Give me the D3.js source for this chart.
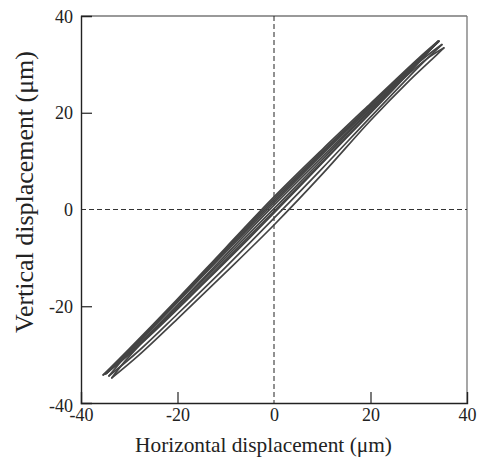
<!DOCTYPE html>
<html><head><meta charset="utf-8">
<script src="https://d3js.org/d3.v7.min.js"></script>
<style>body{margin:0;background:#fff}svg{display:block}</style>
</head><body>
<script>
// ---- data (µm) ----
const xTicks = [-40, -20, 0, 20, 40];
const yTicks = [-40, -20, 0, 20, 40];
const xLabel = "Horizontal displacement (μm)";
const yLabel = "Vertical displacement (μm)";

// hysteresis loops: each has an ascending and a descending branch
const loopA_up   = [[-35.4,-34.2],[-32,-31.6],[-25,-25.4],[-15,-15.7],[-5,-5.8],[5,4.4],[15,14.8],[25,25.1],[31,31.5],[34.0,34.8]];
const loopA_down = [[34.0,34.8],[30,31.3],[20,21.9],[10,12.4],[0,2.6],[-10,-7.9],[-20,-18.5],[-30,-28.8],[-35.4,-34.2]];
const loopB_up   = [[-35.0,-34.0],[-30,-29.9],[-20,-20.3],[-10,-10.4],[0,-0.4],[10,9.8],[20,20.2],[30,30.6],[34.2,34.8]];
const loopB_down = [[34.2,34.8],[30,31.1],[20,21.6],[10,12.0],[0,2.2],[-10,-8.2],[-20,-18.8],[-30,-29.1],[-35.0,-34.0]];
const loopE_up   = [[-34.7,-33.9],[-30,-29.6],[-20,-19.9],[-10,-9.9],[0,0.2],[10,10.3],[20,20.6],[30,30.8],[34.1,34.7]];
const loopE_down = [[34.1,34.7],[30,30.9],[20,21.3],[10,11.7],[0,1.8],[-10,-8.5],[-20,-19.0],[-30,-29.3],[-34.7,-33.9]];
const loopD_up   = [[-34.2,-34.4],[-28,-29.2],[-20,-21.6],[-10,-11.9],[0,-1.8],[10,8.5],[20,19.1],[30,29.5],[34.8,34.1]];
const loopD_down = [[34.8,34.1],[30,30.4],[20,21.0],[10,11.4],[0,1.4],[-10,-8.8],[-20,-19.2],[-30,-29.5],[-34.2,-34.4]];
const loopC_up   = [[-33.6,-34.8],[-28,-30.1],[-20,-22.6],[-10,-13.0],[0,-3.2],[10,7.3],[20,18.4],[28,26.6],[33,31.3],[35.2,33.4]];
const loopC_down = [[35.2,33.4],[32,31.4],[25,25.4],[15,15.8],[5,5.9],[-5,-4.2],[-15,-14.6],[-25,-25.0],[-31,-31.5],[-33.6,-34.8]];
const branches = [loopA_up, loopA_down, loopB_up, loopB_down, loopE_up, loopE_down, loopD_up, loopD_down, loopC_up, loopC_down];

// ---- layout ----
const W = 479, H = 457;
const L = 81, R = 467, T = 16, B = 403;
const font = "'Liberation Serif', serif";

const svg = d3.select("body").append("svg").attr("width", W).attr("height", H);
const x = d3.scaleLinear().domain([-40, 40]).range([L, R]);
const y = d3.scaleLinear().domain([-40, 40]).range([B, T]);

// frame top/right (lighter)
svg.append("line").attr("x1", L).attr("x2", R).attr("y1", T).attr("y2", T).attr("stroke", "#777").attr("stroke-width", 1.3);
svg.append("line").attr("x1", R).attr("x2", R).attr("y1", T).attr("y2", B).attr("stroke", "#777").attr("stroke-width", 1.3);

// zero dashed lines
svg.append("line").attr("x1", L).attr("x2", R).attr("y1", y(0)).attr("y2", y(0))
  .attr("stroke", "#333").attr("stroke-width", 1).attr("stroke-dasharray", "5,3");
svg.append("line").attr("x1", x(0)).attr("x2", x(0)).attr("y1", T).attr("y2", B)
  .attr("stroke", "#222").attr("stroke-width", 1).attr("stroke-dasharray", "5,3");

// axes
const fmt = d => String(d);
const gx = svg.append("g").attr("transform", `translate(0,${B})`)
  .call(d3.axisBottom(x).tickValues(xTicks).tickSize(-11).tickPadding(8).tickFormat(fmt));
const gy = svg.append("g").attr("transform", `translate(${L},0)`)
  .call(d3.axisLeft(y).tickValues(yTicks).tickSize(-11).tickPadding(8).tickFormat(fmt));
[gx, gy].forEach(g => {
  g.select(".domain").attr("stroke", "#222").attr("stroke-width", 1.4);
  g.selectAll(".tick line").attr("stroke", "#222").attr("stroke-width", 1.2);
  g.selectAll(".tick text").attr("font-family", font).attr("font-size", 18).attr("fill", "#222");
});
gx.selectAll(".tick").filter(d => d === 0 || Math.abs(d) === 40).select("line").remove();
gy.selectAll(".tick").filter(d => d === 0 || Math.abs(d) === 40).select("line").remove();
gx.selectAll(".tick text").attr("dy", "0.72em").attr("y", 5);
gy.selectAll(".tick text").attr("x", -8).attr("dy", "0.34em");
gy.selectAll(".tick").filter(d => d === -40).select("text").attr("dy", "0.45em");

// loops
const line = d3.line().x(d => x(d[0])).y(d => y(d[1])).curve(d3.curveCatmullRom.alpha(0.5));
svg.append("g").selectAll("path").data(branches).join("path")
  .attr("d", line).attr("fill", "none").attr("stroke", "#444").attr("stroke-width", 1.7)
  .attr("stroke-linejoin", "round").attr("stroke-linecap", "round");

// titles
const tx = svg.append("text").text(xLabel).attr("font-family", font).attr("fill", "#222")
  .attr("font-size", 20).attr("text-anchor", "middle").attr("x", 263.5).attr("y", 452);
let w = tx.node().getComputedTextLength();
tx.attr("font-size", 20 * 257 / w);
const ty = svg.append("text").text(yLabel).attr("font-family", font).attr("fill", "#222")
  .attr("font-size", 20).attr("text-anchor", "middle").attr("transform", "translate(33,192) rotate(-90)");
w = ty.node().getComputedTextLength();
ty.attr("font-size", 20 * 282 / w);
</script>
</body></html>
